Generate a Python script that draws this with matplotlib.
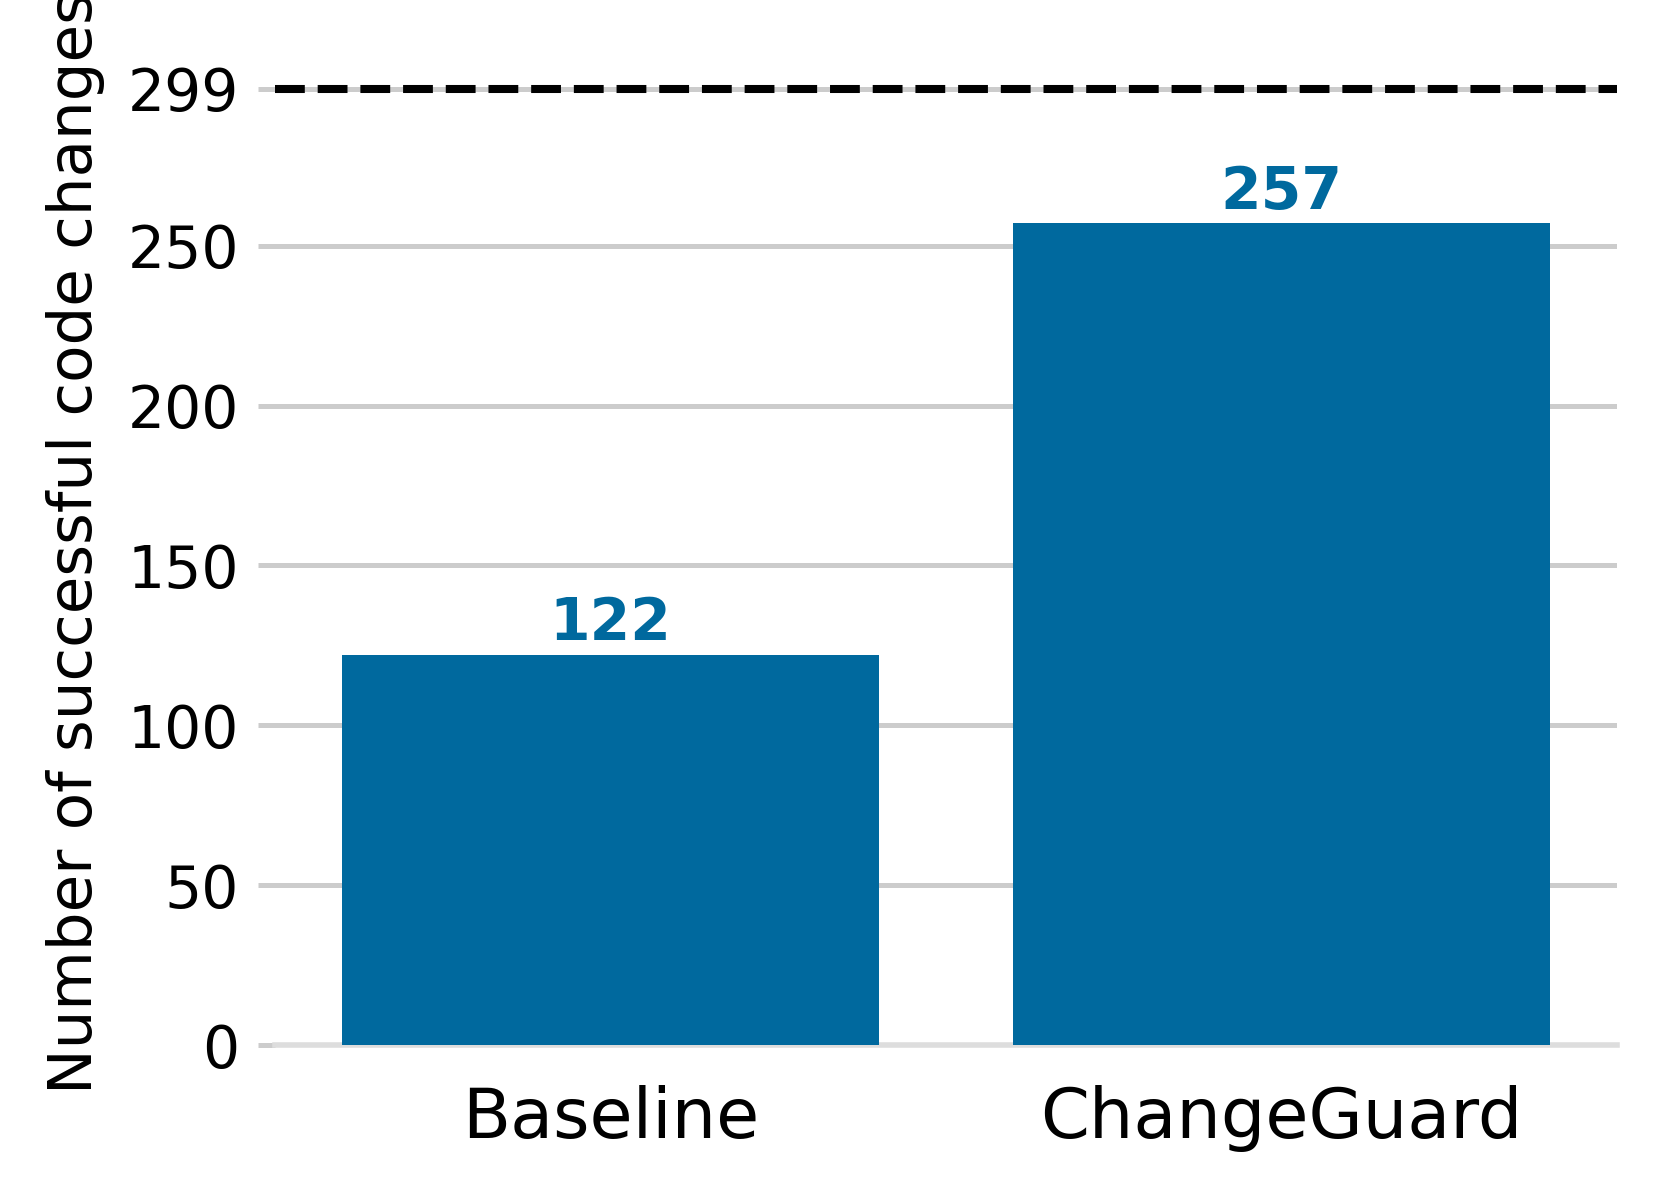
import matplotlib
matplotlib.use("Agg")
from matplotlib import pyplot as plt

methods = ["Baseline", "ChangeGuard"]
successes = [122, 257]
total = 299
yticks = [0, 50, 100, 150, 200, 250, 299]

bar_color = "#00699e"
grid_color = "#cccccc"

fig = plt.figure(figsize=(16.58, 11.95), dpi=100)
ax = fig.add_axes([0.1659, 0.1255, 0.8094, 0.8402])

x = list(range(len(methods)))
ax.bar(x, successes, width=0.8, color=bar_color, zorder=3)
for xi, v in zip(x, successes):
    ax.text(xi, v + 0.8, str(v), ha="center", va="bottom", fontsize=42,
            fontweight="bold", color=bar_color, zorder=4)

ax.axhline(total, color="black", linestyle="--", linewidth=5.8, zorder=4)

ax.set_xlim(-0.5, 1.5)
ax.set_ylim(0, 314)
ax.set_yticks(yticks)
ax.set_xticks(x)
ax.set_xticklabels(methods, fontsize=50.5)
ax.tick_params(axis="y", labelsize=42, length=12, width=3.6, color=grid_color, pad=14)
ax.tick_params(axis="x", length=0, pad=29)
ax.yaxis.grid(True, color=grid_color, linewidth=3.6, zorder=0)
ax.set_axisbelow(True)

for s in ["top", "right", "left"]:
    ax.spines[s].set_visible(False)
ax.spines["bottom"].set_color("#dddddd")
ax.spines["bottom"].set_linewidth(4)

ax.set_ylabel("Number of successful code changes", fontsize=44, labelpad=16)

fig.savefig("out.png", dpi=100)
